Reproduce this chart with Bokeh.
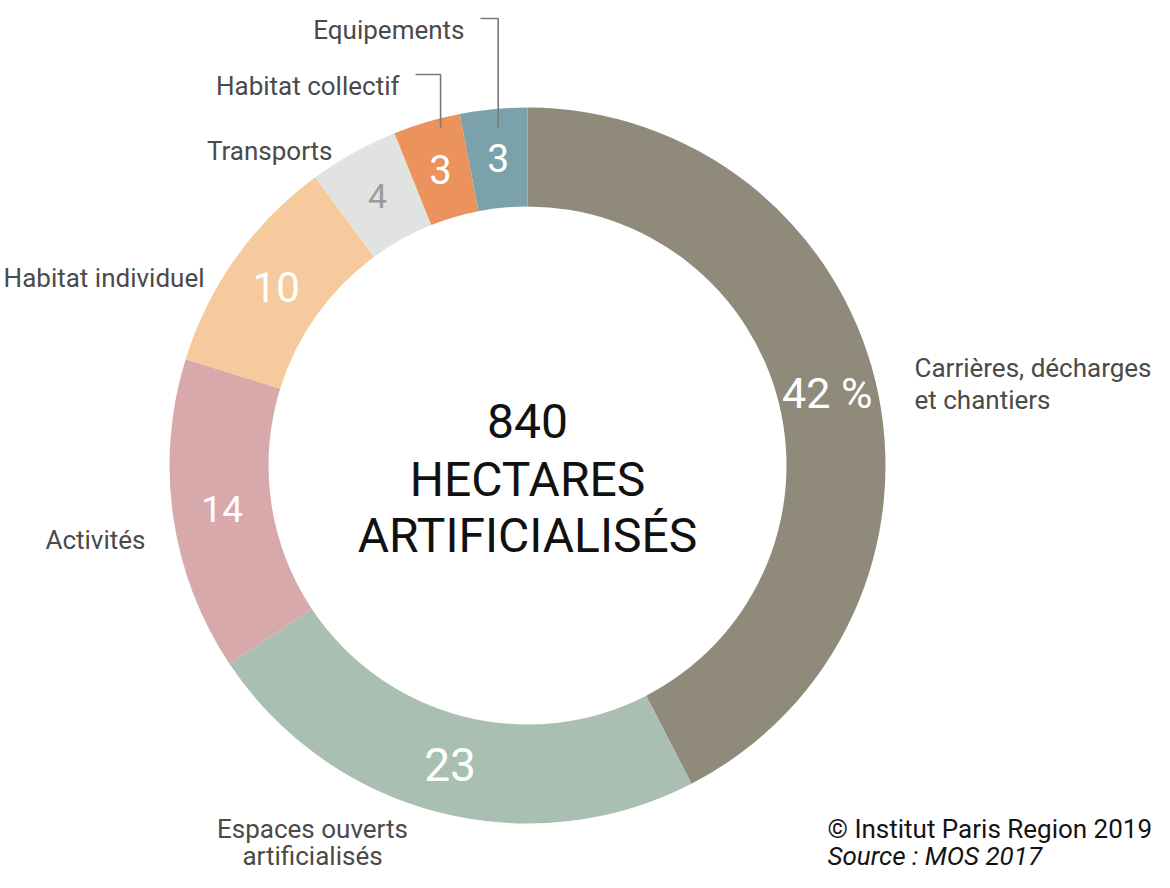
import math
from bokeh.plotting import figure
from bokeh.models import ColumnDataSource, Range1d
from bokeh.core.properties import value
from bokeh.embed import file_html
from bokeh.resources import INLINE

# ---- data ----
categories = ["Carrières, décharges et chantiers", "Espaces ouverts artificialisés",
              "Activités", "Habitat individuel", "Transports", "Habitat collectif", "Equipements"]
label_lines = [["Carrières, décharges", "et chantiers"], ["Espaces ouverts", "artificialisés"],
               ["Activités"], ["Habitat individuel"], ["Transports"], ["Habitat collectif"], ["Equipements"]]
shares = [42, 23, 14, 10, 4, 3, 3]
value_labels = ["42 %", "23", "14", "10", "4", "3", "3"]
colors = ["#8f8a7a", "#a9bfb2", "#d8a9aa", "#f6ca9c", "#e0e3df", "#eb925d", "#7ba2ab"]
center_lines = ["840", "HECTARES", "ARTIFICIALISÉS"]
credit = "© Institut Paris Region 2019"
source = "Source : MOS 2017"

# ---- layout ----
W, H = 1154, 872
def Y(yi):
    return 888 - yi

FONT = "Roboto"
cx, cy = 535, Y(473)
r_in, r_out = 259, 358
r_mid = (r_in + r_out) / 2

total = sum(shares)
starts, ends, mids = [], [], []
acc = 0
for s in shares:
    a0 = math.pi / 2 - acc / total * 2 * math.pi
    acc += s
    a1 = math.pi / 2 - acc / total * 2 * math.pi
    starts.append(a0)
    ends.append(a1)
    mids.append((a0 + a1) / 2)

p = figure(width=W, height=H, output_backend="svg", toolbar_location=None,
           x_range=Range1d(8, 8 + W), y_range=Range1d(8, 8 + H),
           min_border=0, outline_line_color=None)
p.axis.visible = False
p.grid.visible = False
p.background_fill_color = "white"

src = ColumnDataSource(dict(start=starts, end=ends, color=colors, cat=categories))
p.annular_wedge(x=cx, y=cy, inner_radius=r_in, outer_radius=r_out,
                start_angle="start", end_angle="end", direction="clock",
                fill_color="color", line_color=None, source=src)

# value labels inside ring
val_sizes = ["43px", "46px", "37px", "42px", "34px", "40px", "39px"]
val_colors = ["white", "white", "white", "white", "#9b9b9b", "white", "white"]
vsrc = ColumnDataSource(dict(
    x=[cx + r_mid * math.cos(m) for m in mids],
    y=[cy + r_mid * math.sin(m) for m in mids],
    t=value_labels, size=val_sizes, c=val_colors))
p.text(x="x", y="y", text="t", text_font_size="size", text_color="c",
       text_align="center", text_baseline="middle", text_font=value(FONT), source=vsrc)

# category labels (position per category: x, baseline y of first line, align, line gap)
lab_pos = [(922, 375, "left", 32), (320, 836, "center", 27), (153, 547, "right", 0),
           (212, 285, "right", 0), (340, 158, "right", 0), (407, 93, "right", 0), (472, 37, "right", 0)]
lx, ly, lt, la = [], [], [], []
for lines, (x0, y0, al, gap) in zip(label_lines, lab_pos):
    for k, ln in enumerate(lines):
        lx.append(x0); ly.append(Y(y0 + gap * k)); lt.append(ln); la.append(al)
lsrc = ColumnDataSource(dict(x=lx, y=ly, t=lt, a=la))
p.text(x="x", y="y", text="t", text_align="a", text_baseline="alphabetic",
       text_font_size="26px", text_color="#4a4a4a", text_font=value(FONT), source=lsrc)

# leader lines for the two small slices
for idx in (5, 6):
    x0, yb, _, _ = lab_pos[idx]
    vx = cx + r_mid * math.cos(mids[idx])
    hy = yb - 11
    p.line(x=[x0 + 16, vx, vx], y=[Y(hy), Y(hy), Y(135)], line_color="#7a7a7a", line_width=1.6)

# center text
p.text(x=[cx, cx, cx], y=[Y(428), Y(487), Y(543)], text=center_lines,
       text_align="center", text_baseline="alphabetic", text_font_size="48px",
       text_color="#111111", text_font=value(FONT))

# credits
p.text(x=[835], y=[Y(836)], text=[credit], text_align="left", text_baseline="alphabetic",
       text_font_size="26px", text_color="#141414", text_font=value(FONT))
p.text(x=[835], y=[Y(863)], text=[source], text_align="left", text_baseline="alphabetic",
       text_font_size="26px", text_color="#141414", text_font=value(FONT), text_font_style="italic")

open("out.html", "w").write(file_html(p, INLINE))
